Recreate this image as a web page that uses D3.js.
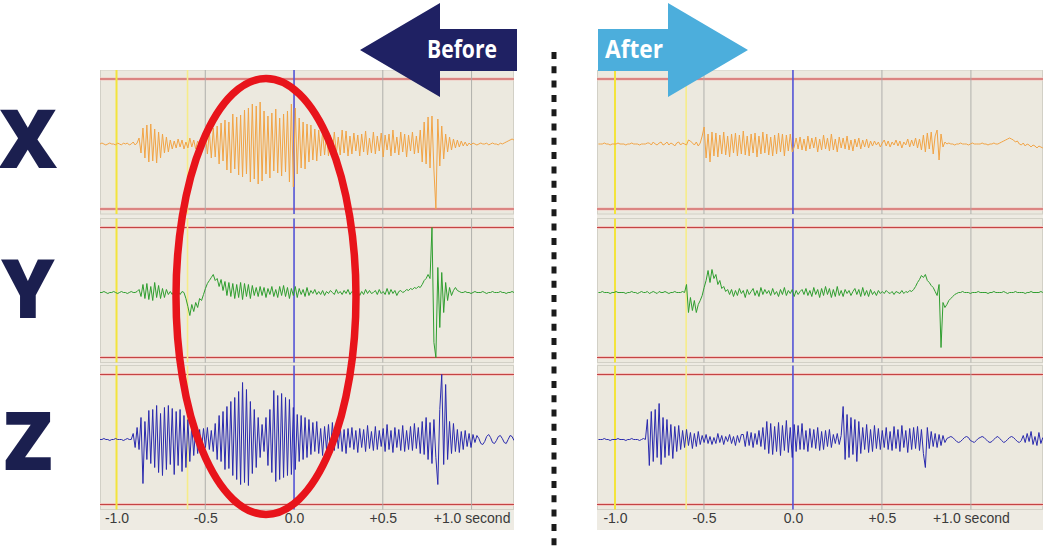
<!DOCTYPE html>
<html><head><meta charset="utf-8">
<script src="https://cdn.jsdelivr.net/npm/d3@7"></script>
<style>html,body{margin:0;padding:0;background:#fff;}svg{display:block;}</style>
</head><body>
<svg id="chart" width="1048" height="548"></svg>
<script>
// ---------- data ----------
const axisNames = ["X", "Y", "Z"];
const tickValues = [-1.0, -0.5, 0.0, 0.5, 1.0];
const tickLabels = ["-1.0", "-0.5", "0.0", "+0.5", "+1.0 second"];
const yellowMarkers = [-1.0, -0.6];
const blueMarkers = [0.0];
const grayMarkers = [-0.5, 0.5, 1.0];
const thresholds = [-65, 65];
const sampleStart = -1.093;   // seconds
const sampleStep = 0.011;     // seconds per sample

const beforeX = [0,1,0,-1,0,1,0,0,-1,1,0,-1,1,0,1,-1,0,2,-1,1,
 6,-9,16,-14,19,-18,20,-17,15,-19,12,-14,10,-9,7,-8,4,-5,
 3,-4,5,-3,4,-5,2,-4,6,-3,4,-5,3,-2,5,-4,
 8,-10,12,-14,16,-13,18,-20,21,-17,
 24,-26,22,-29,30,-25,27,-31,29,-33,
 34,-30,36,-38,40,-35,38,-40,42,-37,
 33,-30,28,-34,31,-27,35,-29,26,-32,30,-28,33,
 -38,40,-43,36,-30,
 26,-24,22,-25,20,-18,19,-16,15,-17,14,-12,13,-11,10,-12,
 9,-8,12,-10,7,-11,14,-9,13,-12,8,-10,11,-7,9,-12,10,-8,13,-11,6,-9,12,-10,8,-7,11,-13,9,-6,10,-12,14,-9,7,-11,12,-8,10,-13,9,-7,12,-10,8,-9,
 14,-18,22,-20,27,-24,28,-26,-65,25,-22,18,-15,10,
 -8,7,-6,5,-4,4,-3,3,-2,2,-2,1,-1,
 1,0,-1,0,1,0,0,1,-1,0,1,0,0,-1,1,0,1,2,3,4,5,4];

const beforeY = [0,0,1,0,-1,0,0,1,0,-1,0,1,0,0,-1,0,1,0,0,1,
 3,-4,8,-6,9,-7,6,-8,10,-5,7,-6,4,-5,3,-2,
 1,-2,2,-1,1,-2,1,0,
 -6,-14,-23,-12,-19,
 -10,-15,-6,-8,-2,
 4,9,12,15,18,
 12,14,6,13,2,11,-3,10,-4,9,-6,8,-5,10,-7,9,-4,8,-6,7,-3,
 5,-4,6,-3,5,-5,4,-2,6,-4,3,-5,6,-3,7,-4,5,-6,4,-3,6,-5,4,-2,3,-4,5,-3,
 2,-1,3,-2,1,-2,2,-3,1,-1,2,0,-2,3,-1,1,-2,2,-1,3,-2,1,0,-1,2,-3,1,-2,3,-1,2,-1,0,2,-2,3,-1,1,-2,4,-2,3,-1,2,-3,1,2,0,1,3,2,4,3,5,4,6,5,
 8,12,14,18,14,
 65,-50,-65,25,-35,20,-20,10,
 -8,5,-3,2,5,2,1,0,
 0,1,0,0,-1,0,1,0,0,0,1,0,-1,0,0,1,0,0,0,1,0,0,-1,0,0,1,0];

const beforeZ = [0,0,1,0,0,-1,0,0,1,0,0,0,-1,0,1,0,0,
 6,-8,12,-10,
 22,-44,18,-20,29,
 -24,30,-28,34,-33,26,-36,32,-30,34,-25,31,-35,28,-26,30,-32,24,-28,20,-22,
 15,-16,12,-14,10,
 -9,11,-8,12,-10,9,-12,
 16,-20,24,-22,28,-30,33,-29,38,-36,42,
 -40,48,-45,57,-43,50,-46,
 38,-34,30,-28,22,-18,15,-12,
 22,-26,30,-33,49,
 -42,44,-40,46,-38,42,-36,40,
 -35,32,-30,25,-22,24,-20,22,-18,20,
 -15,17,-12,18,-14,11,-16,13,-10,15,-12,17,-11,14,-9,13,-12,10,-14,11,-8,
 12,-10,9,-13,11,-8,10,-12,14,-9,8,-11,13,-10,9,-7,11,-12,15,-10,9,-13,12,-8,10,-11,14,-12,9,-10,13,-11,16,-9,12,-14,
 18,-15,22,-20,17,-24,20,-18,-45,
 30,65,-25,55,-20,
 18,-14,16,-12,10,-13,8,-10,9,-7,6,-8,
 5,-3,4,1,-4,-5,-2,3,5,2,-3,-4,-1,3,4,1,-3,-4,0,4,3,-1];

const afterX = [0,0,0,1,0,0,-1,0,0,0,1,0,0,0,-1,0,0,1,0,0,0,-1,0,0,0,1,
 1,-1,2,0,-1,1,2,-1,0,2,-1,1,0,-2,1,2,-1,1,0,-1,
 4,3,1,-1,2,-2,1,
 8,17,-14,10,-18,12,
 -12,11,-13,9,-10,12,-11,8,-13,10,-9,11,-12,9,-10,13,-11,8,-12,10,-9,11,-13,8,-10,12,-9,10,-11,7,-12,9,-10,11,-8,10,-12,9,-7,10,
 -8,-3,6,-5,
 7,-6,5,-7,8,-5,6,-4,7,-8,5,-6,9,-5,6,-7,10,-6,5,-8,7,-4,6,-5,8,-6,4,-7,5,-3,6,-5,4,-3,5,-4,3,
 -2,3,-1,2,-3,1,4,-2,3,-3,2,-1,4,-2,3,-4,2,-1,5,-3,4,-2,6,-4,5,
 -6,9,-8,11,-5,12,-10,8,14,-16,10,
 -3,2,0,
 1,0,0,-1,0,0,1,0,0,0,-1,0,1,0,0,0,0,1,0,0,-1,0,0,1,0,0,1,
 2,3,4,5,6,5,4,
 2,3,0,-1,1,-2,0,-1,-3,-1,-2,-4,-2,-3,-4];

const afterY = [0,0,1,0,0,0,-1,0,0,1,0,0,0,0,-1,0,0,1,0,0,-1,0,1,0,0,1,-1,0,1,0,-1,1,0,0,1,0,-1,0,0,1,0,0,0,1,0,
 8,-20,-5,-18,-8,-20,-12,
 -8,-3,5,12,
 22,10,23,14,
 18,8,12,4,6,1,3,
 -2,3,-4,2,-3,4,-1,2,-5,3,-2,1,4,-3,2,-4,5,-2,3,-1,2,-3,4,-2,1,-4,3,-2,5,-3,2,-1,3,-4,2,-2,1,3,-2,4,-3,2,-4,5,-2,3,-5,4,-3,6,-2,4,-5,3,-4,6,-3,2,-4,3,-1,2,-3,1,4,-2,3,-4,5,-3,2,-4,3,-2,1,-3,2,-1,
 1,-1,2,0,-1,1,-2,1,0,-1,2,-1,1,0,2,1,
 3,6,10,13,17,15,
 18,12,10,7,5,1,-3,
 8,-55,-10,-15,
 -12,-8,-6,-4,-2,-1,
 0,0,1,0,0,0,-1,0,0,0,1,0,0,0,0,-1,0,0,1,0,0,0,0,1,0,-1,0,0,0,1,0,0,0,0,-1,0,0,1,0,0,0,0,1,0];

const afterZ = [0,0,0,1,0,0,-1,0,0,0,1,0,0,0,-1,0,0,1,0,0,0,-1,0,1,0,
 20,-26,28,-22,30,-18,36,-25,
 22,-18,20,-16,15,-19,13,-12,14,-10,
 9,-8,10,-6,7,-9,6,-7,8,-5,
 4,-3,5,-4,3,-5,2,-4,6,-3,4,-5,3,-2,5,-4,3,-6,4,-3,5,
 5,-7,8,-6,7,-8,6,-5,9,-7,
 12,-10,18,-14,16,-15,13,-12,17,-16,14,-11,19,-13,12,-18,15,-12,14,-10,16,
 -10,9,-12,11,-8,10,-9,12,-11,8,-10,9,-7,10,-8,
 5,-4,6,-5,4,
 33,-20,25,-18,22,-15,20,-22,18,-14,
 12,-10,15,-13,10,-12,14,-9,11,-10,
 9,-8,12,-10,8,-11,13,-9,10,-12,14,-8,9,-13,11,-10,12,-9,13,-11,10,-14,-28,12,-9,
 8,-7,6,-8,5,-6,4,-3,
 1,2,3,2,0,-2,-3,-2,0,2,3,2,-1,-2,-3,-1,1,2,3,2,0,-2,-3,-2,0,2,3,1,-1,-3,-2,0,2,3,2,0,-2,-3,-1,
 4,-3,6,-2,8,-5,3,-6,7,-4,2];

// ---------- layout ----------
const svg = d3.select("#chart");
const colors = { X: "#f2a445", Y: "#2f9e2f", Z: "#2a2aae" };
const stripCenters = [144, 292.5, 439.5];
const panels = [
  { id: "before", left: 100, right: 514, domain: [-1.093, 1.239], series: [beforeX, beforeY, beforeZ] },
  { id: "after",  left: 597, right: 1043, domain: [-1.101, 1.405], series: [afterX, afterY, afterZ] }
];
const panelTop = 70, panelBottom = 530;

const defs = svg.append("defs");

panels.forEach(p => {
  const x = d3.scaleLinear().domain(p.domain).range([p.left, p.right]);
  const g = svg.append("g");
  defs.append("clipPath").attr("id", "clip-" + p.id)
    .append("rect").attr("x", p.left).attr("y", panelTop)
    .attr("width", p.right - p.left).attr("height", panelBottom - panelTop);

  g.append("rect").attr("x", p.left).attr("y", panelTop)
    .attr("width", p.right - p.left).attr("height", panelBottom - panelTop)
    .attr("fill", "#eeebe3");

  axisNames.forEach((name, k) => {
    const c = stripCenters[k];
    const top = c - 74, bottom = c + 70;
    const y = d3.scaleLinear().domain([-65, 65]).range([c + 65, c - 65]);
    const sg = g.append("g").attr("clip-path", `url(#clip-${p.id})`);

    sg.append("rect").attr("x", p.left + 0.5).attr("y", top)
      .attr("width", p.right - p.left - 1).attr("height", bottom - top)
      .attr("fill", "#ece9df").attr("stroke", "#d2d0c6").attr("stroke-width", 1);

    // threshold lines
    thresholds.forEach(v => {
      sg.append("line").attr("x1", p.left).attr("x2", p.right)
        .attr("y1", y(v)).attr("y2", y(v))
        .attr("stroke", "#f2c6c0").attr("stroke-width", 3);
      sg.append("line").attr("x1", p.left).attr("x2", p.right)
        .attr("y1", y(v)).attr("y2", y(v))
        .attr("stroke", "#c44444").attr("stroke-width", 1.1);
    });

    // time markers
    grayMarkers.forEach(t => {
      sg.append("line").attr("x1", x(t)).attr("x2", x(t)).attr("y1", top).attr("y2", bottom)
        .attr("stroke", "#a9a9a6").attr("stroke-width", 0.9);
    });
    yellowMarkers.forEach((t, j) => {
      sg.append("line").attr("x1", x(t)).attr("x2", x(t)).attr("y1", top).attr("y2", bottom)
        .attr("stroke", j === 0 ? "#f3e43c" : "#f6ec8a").attr("stroke-width", j === 0 ? 2 : 1.6);
    });
    blueMarkers.forEach(t => {
      sg.append("line").attr("x1", x(t)).attr("x2", x(t)).attr("y1", top).attr("y2", bottom)
        .attr("stroke", "#5454d6").attr("stroke-width", 1.6);
    });

    const values = p.series[k];
    const line = d3.line()
      .x((d, i) => x(sampleStart + i * sampleStep))
      .y(d => y(d));
    sg.append("path").datum(values)
      .attr("d", line)
      .attr("fill", "none")
      .attr("stroke", colors[name])
      .attr("stroke-width", 1)
      .attr("stroke-linejoin", "round");
  });

  // bottom time axis
  const axis = d3.axisBottom(x).tickValues(tickValues)
    .tickFormat((d, i) => tickLabels[i]).tickSize(0).tickPadding(0);
  const ag = g.append("g").attr("transform", "translate(0,513)").call(axis);
  ag.select(".domain").remove();
  ag.selectAll("text").attr("font-family", "Liberation Sans, Arial, sans-serif")
    .attr("font-size", 14).attr("fill", "#3a3a3a").attr("dy", "0.71em");
});

// ---------- annotations ----------
const letterY = [168, 318, 470];
axisNames.forEach((n, k) => {
  svg.append("text").attr("x", 28).attr("y", letterY[k])
    .attr("text-anchor", "middle")
    .attr("font-family", "Open Sans, Liberation Sans, sans-serif")
    .attr("font-weight", 800).attr("font-size", 81)
    .attr("fill", "#1b1f4f").text(n);
});

// Before arrow (points left)
svg.append("path")
  .attr("d", "M360,50 L440,3 L440,29 L517,29 L517,71 L440,71 L440,97 Z")
  .attr("fill", "#1f2163");
svg.append("text").attr("x", 462).attr("y", 58).attr("text-anchor", "middle")
  .attr("font-family", "Open Sans, sans-serif").attr("font-weight", 700)
  .attr("font-size", 25).attr("fill", "#fff")
  .attr("textLength", 70).attr("lengthAdjust", "spacingAndGlyphs").text("Before");

// After arrow (points right)
svg.append("path")
  .attr("d", "M598,29 L668,29 L668,3 L748,50 L668,97 L668,71 L598,71 Z")
  .attr("fill", "#4caedc");
svg.append("text").attr("x", 634).attr("y", 58).attr("text-anchor", "middle")
  .attr("font-family", "Open Sans, sans-serif").attr("font-weight", 700)
  .attr("font-size", 25).attr("fill", "#fff")
  .attr("textLength", 58).attr("lengthAdjust", "spacingAndGlyphs").text("After");

// dotted divider
svg.append("line").attr("x1", 554).attr("x2", 554).attr("y1", 52).attr("y2", 546)
  .attr("stroke", "#1a1a1a").attr("stroke-width", 5)
  .attr("stroke-dasharray", "7,7.3");

// red highlight ellipse
svg.append("ellipse").attr("cx", 266).attr("cy", 296.5).attr("rx", 90).attr("ry", 218)
  .attr("fill", "none").attr("stroke", "#e8141b").attr("stroke-width", 7.5);
</script>
</body></html>
